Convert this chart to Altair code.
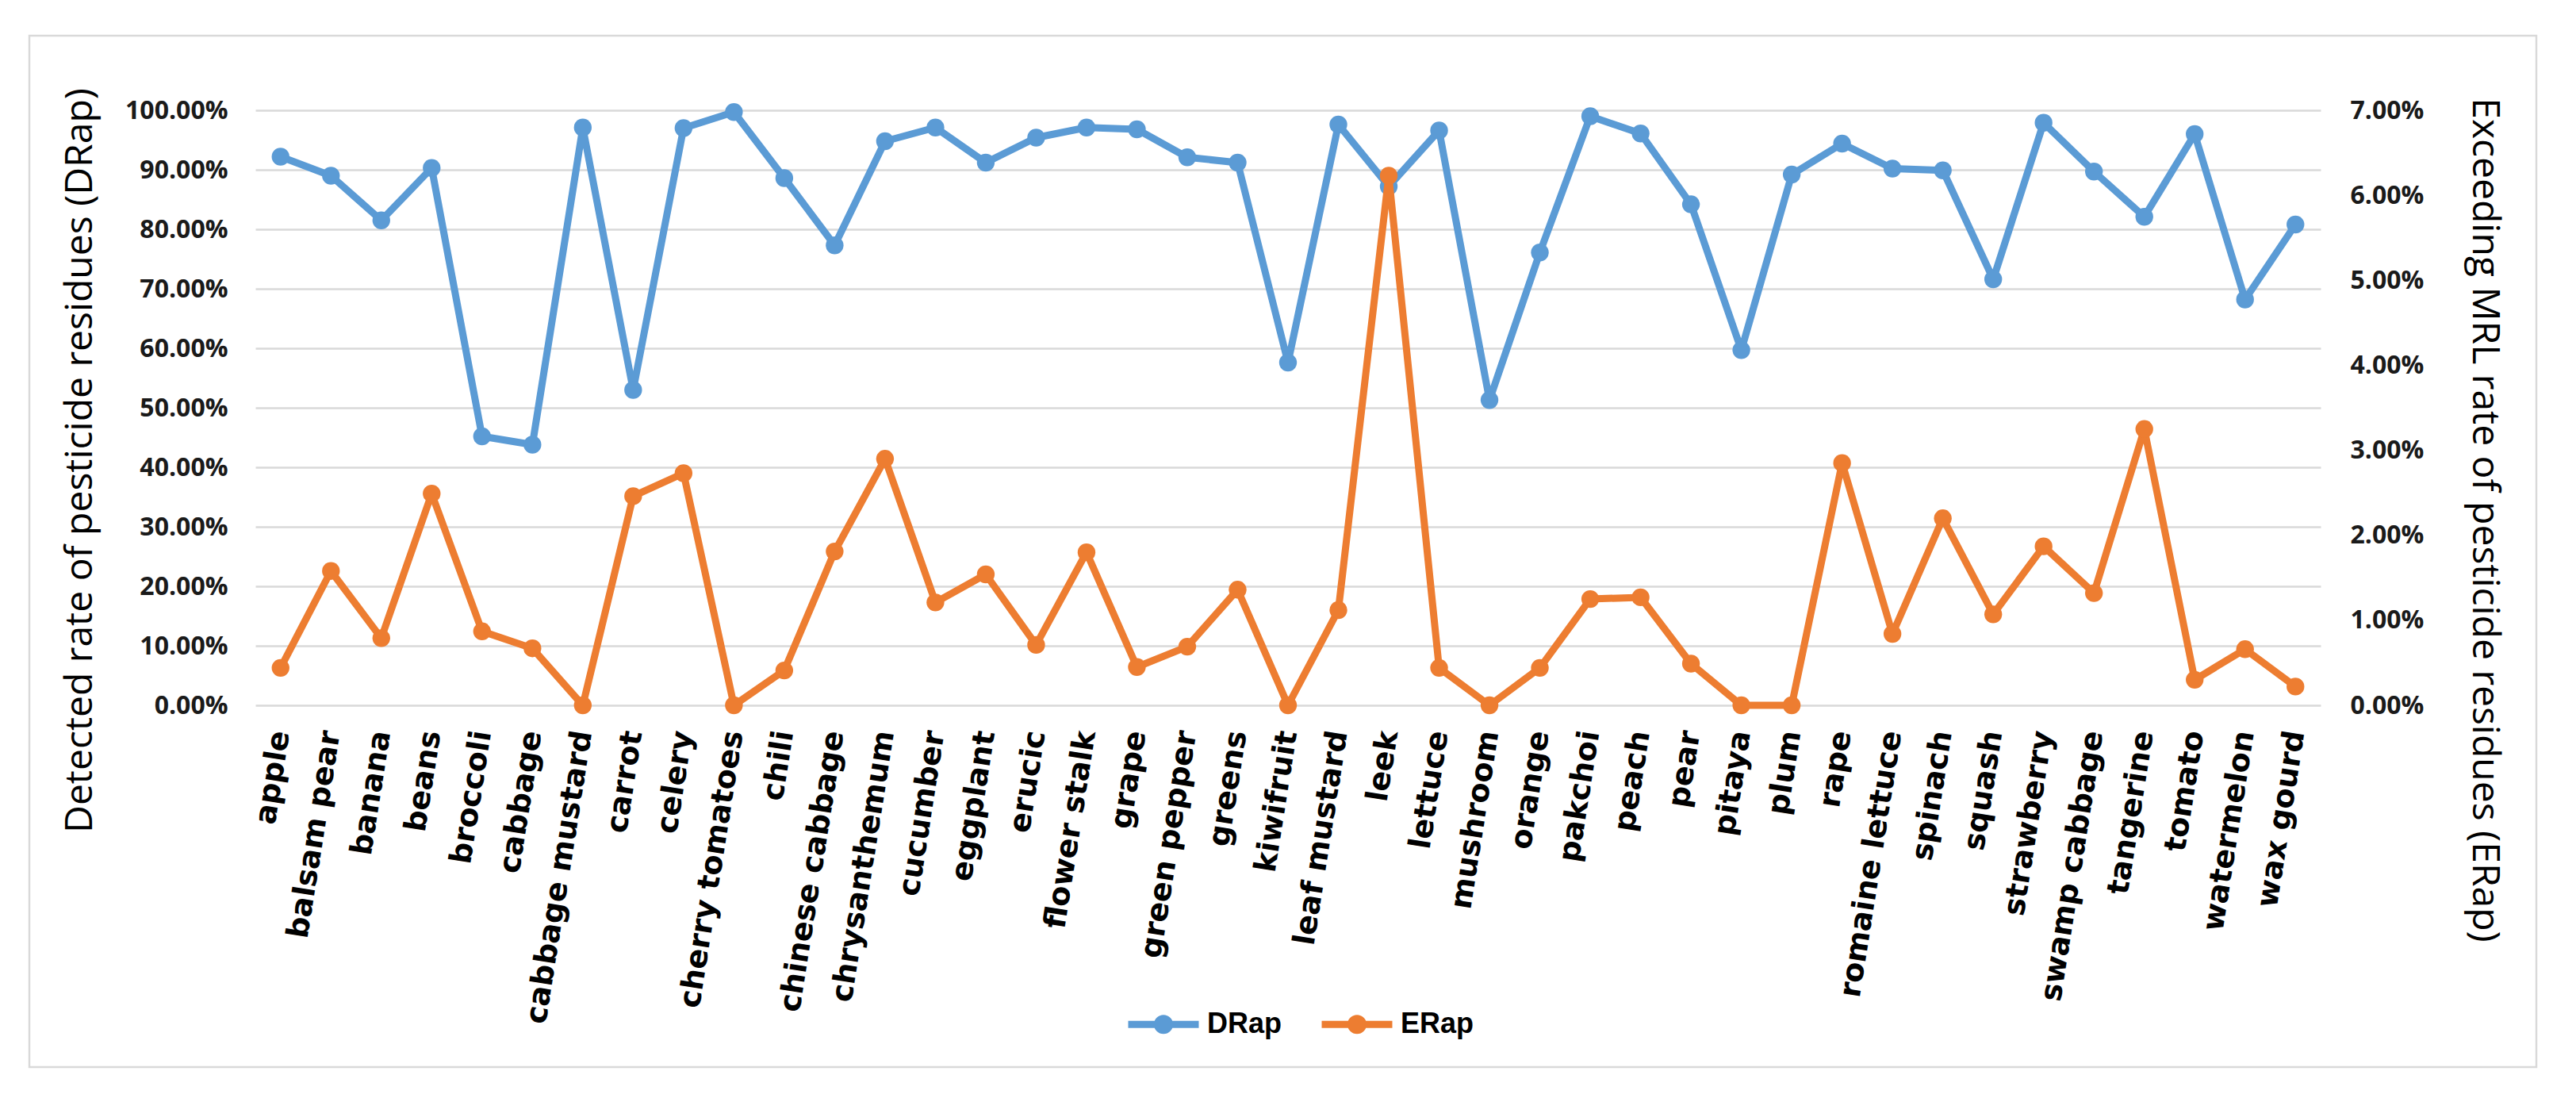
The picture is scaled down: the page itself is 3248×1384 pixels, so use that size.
import altair as alt
import pandas as pd

crops = ["apple", "balsam pear", "banana", "beans", "broccoli", "cabbage", "cabbage mustard",
         "carrot", "celery", "cherry tomatoes", "chili", "chinese cabbage", "chrysanthemum",
         "cucumber", "eggplant", "erucic", "flower stalk", "grape", "green pepper", "greens",
         "kiwifruit", "leaf mustard", "leek", "lettuce", "mushroom", "orange", "pakchoi",
         "peach", "pear", "pitaya", "plum", "rape", "romaine lettuce", "spinach", "squash",
         "strawberry", "swamp cabbage", "tangerine", "tomato", "watermelon", "wax gourd"]

# percentages
drap = [92.2, 89.0, 81.5, 90.3, 45.2, 43.8, 97.1, 53.0, 97.0, 99.7, 88.6, 77.3, 94.8,
        97.1, 91.2, 95.4, 97.1, 96.8, 92.1, 91.2, 57.6, 97.6, 87.2, 96.6, 51.3, 76.1, 99.0,
        96.1, 84.2, 59.7, 89.2, 94.4, 90.2, 89.9, 71.6, 97.9, 89.7, 82.1, 96.0, 68.2, 80.8]
erap = [0.44, 1.58, 0.79, 2.49, 0.87, 0.67, 0.00, 2.46, 2.73, 0.00, 0.41, 1.81, 2.90,
        1.21, 1.54, 0.71, 1.80, 0.45, 0.69, 1.36, 0.00, 1.12, 6.23, 0.44, 0.00, 0.44, 1.25,
        1.27, 0.49, 0.00, 0.00, 2.85, 0.84, 2.20, 1.07, 1.87, 1.32, 3.25, 0.30, 0.66, 0.22]

series_names = ["DRap", "ERap"]
series_colors = ["#5B9BD5", "#ED7D31"]
left_ticks = [i / 10 for i in range(11)]
right_ticks = [i / 100 for i in range(8)]

df_d = pd.DataFrame({"crop": crops, "value": [v / 100 for v in drap], "series": "DRap"})
df_e = pd.DataFrame({"crop": crops, "value": [v / 100 for v in erap], "series": "ERap"})

W, H = 2604, 750

x_enc = alt.X("crop:N", sort=crops, scale=alt.Scale(padding=0.5),
              axis=alt.Axis(title=None, labelAngle=-81, labelFont="DejaVu Sans",
                            labelFontSize=38, labelFontWeight="bold", labelColor="#000000",
                            labelPadding=32, ticks=False, tickSize=0, domain=False, grid=False,
                            labelOverlap=False, labelLimit=1000, labelAlign="right",
                            labelBaseline="middle"))

legend_path = ("M-1,0L1,0 M0.17,0A0.17,0.17,0,1,1,-0.17,0A0.17,0.17,0,1,1,0.17,0 "
               "M0.08,0A0.08,0.08,0,1,1,-0.08,0A0.08,0.08,0,1,1,0.08,0")

color_enc = alt.Color("series:N",
                      scale=alt.Scale(domain=series_names, range=series_colors),
                      legend=alt.Legend(title=None, orient="none", legendX=1096, legendY=1103,
                                        direction="horizontal", symbolType=legend_path,
                                        symbolSize=7921, symbolStrokeWidth=9,
                                        labelFont="Liberation Sans", labelFontSize=36,
                                        labelFontWeight="bold", labelColor="#000000",
                                        labelOffset=6, columnPadding=31, padding=0))

frame = alt.Chart(pd.DataFrame({"k": [0]})).mark_rect(
    fillOpacity=0, stroke="#d9d9d9", strokeWidth=2.5
).encode(x=alt.value(-285), x2=alt.value(2876), y=alt.value(-94), y2=alt.value(1206))

line_d = alt.Chart(df_d).mark_line(
    strokeWidth=9, strokeJoin="round", strokeCap="round",
    point=alt.OverlayMarkDef(filled=True, size=500, opacity=1)
).encode(
    x=x_enc,
    y=alt.Y("value:Q", scale=alt.Scale(domain=[0, 1], nice=False, zero=True),
            axis=alt.Axis(values=left_ticks, format=".2%", orient="left",
                          labelFont="Open Sans", labelFontSize=32, labelFontWeight="bold",
                          labelColor="#1a1a1a", labelPadding=35, ticks=False, tickSize=0,
                          domain=False, grid=True, gridColor="#d9d9d9", gridWidth=2.5,
                          title="Detected rate of pesticide residues (DRap)",
                          titleFont="Open Sans", titleFontSize=48, titleFontWeight="normal",
                          titleColor="#000000", titleAngle=-90, titleX=-207, titleY=441,
                          titleAlign="center", titleBaseline="alphabetic")),
    color=color_enc,
)

line_e = alt.Chart(df_e).mark_line(
    strokeWidth=9, strokeJoin="round", strokeCap="round",
    point=alt.OverlayMarkDef(filled=True, size=500, opacity=1)
).encode(
    x=x_enc,
    y=alt.Y("value:Q", scale=alt.Scale(domain=[0, 0.07], nice=False, zero=True),
            axis=alt.Axis(values=right_ticks, format=".2%", orient="right",
                          labelFont="Open Sans", labelFontSize=32, labelFontWeight="bold",
                          labelColor="#1a1a1a", labelPadding=37, ticks=False, tickSize=0,
                          domain=False, grid=False,
                          title="Exceeding MRL rate of pesticide residues (ERap)",
                          titleFont="Open Sans", titleFontSize=48, titleFontWeight="normal",
                          titleColor="#000000", titleAngle=90, titleX=191, titleY=516,
                          titleAlign="center", titleBaseline="alphabetic")),
    color=color_enc,
)

chart = alt.layer(frame, line_d, line_e).resolve_scale(y="independent").properties(
    width=W, height=H,
    autosize=alt.AutoSizeParams(type="none"),
    padding={"left": 314, "top": 131, "right": 300, "bottom": 460},
    background="white",
).configure_view(stroke=None)

chart.save("out.html", embed_options={"renderer": "svg", "actions": False})
